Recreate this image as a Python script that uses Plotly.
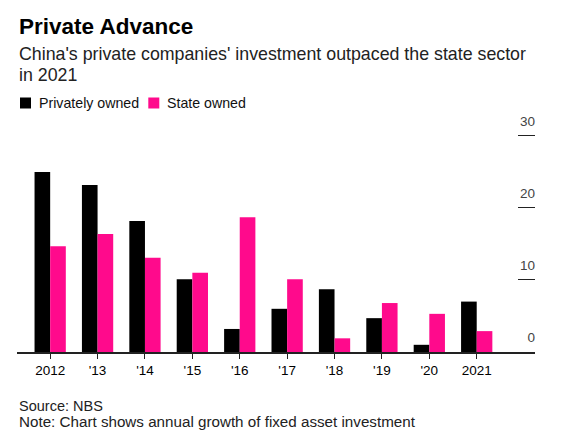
import plotly.graph_objects as go

years = ["2012", "'13", "'14", "'15", "'16", "'17", "'18", "'19", "'20", "2021"]
private_owned = [25.0, 23.2, 18.2, 10.1, 3.2, 6.0, 8.7, 4.7, 1.0, 7.0]
state_owned = [14.7, 16.4, 13.1, 11.0, 18.7, 10.1, 1.9, 6.8, 5.3, 2.9]
y_ticks = [0, 10, 20, 30]
series_names = ["Privately owned", "State owned"]

FONT = "Liberation Sans, Arial, Helvetica, sans-serif"
BLACK = "#000000"
PINK = "#ff0a8c"

W, H = 573, 433
OFF = 8  # page offset of the figure inside the browser window
L, R, T, B = 9, 46, 104, 89
PW, PH = W - L - R, H - T - B


def px(xw):
    return (xw - OFF - L) / PW


def py(yw):
    return (H - B - (yw - OFF)) / PH


fig = go.Figure()
fig.add_trace(go.Bar(x=years, y=private_owned, name=series_names[0],
                     marker=dict(color=BLACK, line=dict(width=0))))
fig.add_trace(go.Bar(x=years, y=state_owned, name=series_names[1],
                     marker=dict(color=PINK, line=dict(width=0))))

fig.update_layout(
    width=W, height=H,
    margin=dict(l=L, r=R, t=T, b=B, pad=0),
    paper_bgcolor="white", plot_bgcolor="white",
    font=dict(family=FONT, color="#000000", size=14),
    barmode="group", bargap=0.34, bargroupgap=0,
    showlegend=False,
    xaxis=dict(type="category", range=[-0.70, 10.23], showgrid=False, zeroline=False,
               showline=True, linecolor="#222222", linewidth=1.5,
               ticks="outside", ticklen=5, tickcolor="#222222", tickwidth=1,
               tickfont=dict(size=13.5, family=FONT)),
    yaxis=dict(side="right", range=[0, 33.33], tickvals=y_ticks, showgrid=False, zeroline=False,
               showline=False, ticks="inside", ticklen=17, tickcolor="#222222", tickwidth=1,
               ticklabelposition="inside top", ticklabelshift=-5, ticklabelstandoff=-3,
               tickfont=dict(size=13.5, family=FONT)),
)

# Title and subtitle
fig.add_annotation(text="<b>Private Advance</b>", x=px(17), y=py(26.5), xref="paper", yref="paper",
                   xanchor="left", yanchor="middle", showarrow=False,
                   font=dict(size=22.5, family=FONT, color="#000000"))
fig.add_annotation(text="China's private companies' investment outpaced the state sector",
                   x=px(17), y=py(54), xref="paper", yref="paper", xanchor="left", yanchor="middle",
                   align="left", showarrow=False, font=dict(size=17.8, family=FONT, color="#222222"))
fig.add_annotation(text="in 2021",
                   x=px(17), y=py(75), xref="paper", yref="paper", xanchor="left", yanchor="middle",
                   align="left", showarrow=False, font=dict(size=17.8, family=FONT, color="#222222"))

# Legend (manual, positioned like the reference)
legend_items = [(20, 37, BLACK, series_names[0]), (148.3, 165, PINK, series_names[1])]
for sx, tx, col, name in legend_items:
    fig.add_shape(type="rect", xref="paper", yref="paper",
                  x0=px(sx), x1=px(sx + 11), y0=py(108.5), y1=py(97.5),
                  fillcolor=col, line=dict(width=0))
    fig.add_annotation(text=name, x=px(tx), y=py(103), xref="paper", yref="paper",
                       xanchor="left", yanchor="middle", showarrow=False,
                       font=dict(size=14.2, family=FONT, color="#111111"))

# Footer
fig.add_annotation(text="Source: NBS", x=px(17), y=py(405.5), xref="paper", yref="paper",
                   xanchor="left", yanchor="middle", showarrow=False,
                   font=dict(size=14.5, family=FONT, color="#222222"))
fig.add_annotation(text="Note: Chart shows annual growth of fixed asset investment",
                   x=px(17), y=py(421.5), xref="paper", yref="paper",
                   xanchor="left", yanchor="middle", showarrow=False,
                   font=dict(size=15.2, family=FONT, color="#222222"))

fig.write_html("out.html")
